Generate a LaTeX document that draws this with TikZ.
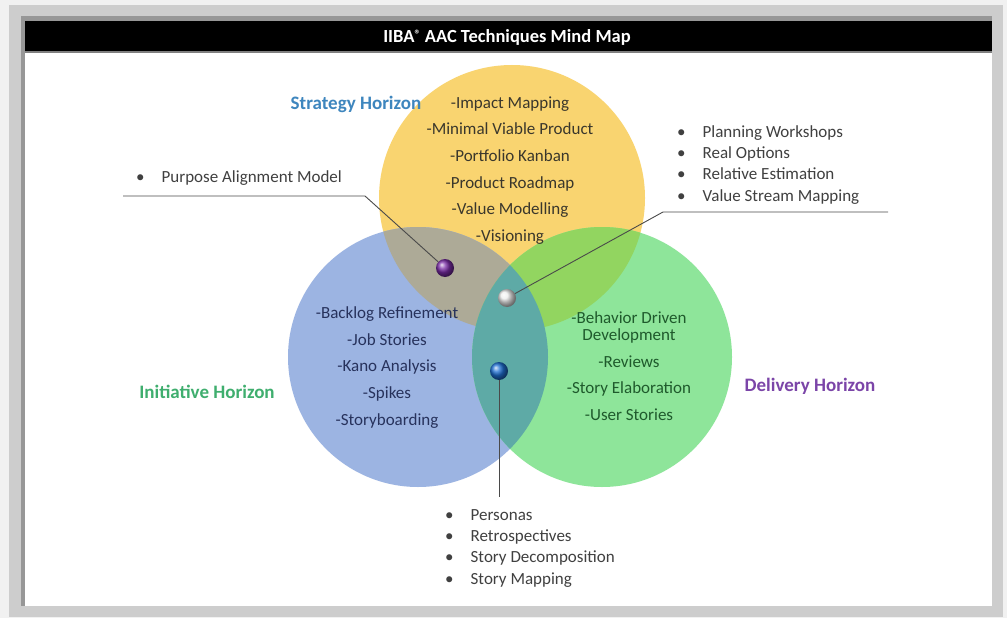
\documentclass[tikz,border=0pt]{standalone}
\usepackage{fontspec}
\setmainfont{Carlito}

\definecolor{outergray}{HTML}{F1F1F1}
\definecolor{shadowgray}{HTML}{CDCDCD}
\definecolor{edgegray}{HTML}{979797}
\definecolor{stratfill}{HTML}{F9D470}
\definecolor{initfill}{HTML}{9CB4E2}
\definecolor{delivfill}{HTML}{8EE59A}
\definecolor{siOverlap}{HTML}{ADAA97}
\definecolor{sdOverlap}{HTML}{92D560}
\definecolor{idOverlap}{HTML}{5EAAA6}
\definecolor{stratlabel}{HTML}{3E86BE}
\definecolor{initlabel}{HTML}{3FAE6E}
\definecolor{delivlabel}{HTML}{7B45A8}
\definecolor{strattext}{HTML}{3A372C}
\definecolor{inittext}{HTML}{27325C}
\definecolor{delivtext}{HTML}{1F5A2C}
\definecolor{bullettext}{HTML}{404040}
\definecolor{leadergray}{HTML}{4A4A4A}
\definecolor{ballpurple}{HTML}{7A2CA6}
\definecolor{ballwhite}{HTML}{EDEDED}
\definecolor{ballblue}{HTML}{1E6FD2}

\begin{document}
\begin{tikzpicture}[x=1pt,y=-1pt,
  titletext/.style={text=white,font=\fontsize{18.5}{21}\selectfont\bfseries},
  circtext/.style={align=center,font=\fontsize{17}{26.6}\selectfont},
  horizon/.style={font=\fontsize{19}{22}\selectfont\bfseries},
  bulletlist/.style={anchor=north west,inner sep=0pt,font=\fontsize{17}{21.3}\selectfont,text=bullettext},
  leader/.style={draw=leadergray,line width=0.9pt},
  pearl/.style={circle,minimum size=18pt,inner sep=0pt}]
  	% frame and shadow
  	\fill[outergray] (0,0) rectangle (1007,618);
  	\fill[shadowgray] (9,5) rectangle (1003,617);
  	\fill[edgegray] (21,16) rectangle (992,606);
  	\fill[white] (25,21) rectangle (992,606);
  	\fill[black] (25,21) rectangle (992,52);
  	\draw[gray,line width=1.5pt] (25,52) -- (992,52);
  	\node[titletext] (title) at (507,37) {IIBA{\fontsize{12}{12}\selectfont\raisebox{4pt}{®}} AAC Techniques Mind Map};

  	% the three horizons
  	\coordinate (S) at (512,198);
  	\coordinate (I) at (418,357);
  	\coordinate (D) at (602,357);
  	\fill[stratfill] (S) circle[radius=133pt];
  	\fill[initfill] (I) circle[radius=130pt];
  	\fill[delivfill] (D) circle[radius=130pt];
  	\begin{scope}
    	\clip (S) circle[radius=133pt];
    	\fill[siOverlap] (I) circle[radius=130pt];
    	\fill[sdOverlap] (D) circle[radius=130pt];
  	\end{scope}
  	\begin{scope}
    	\clip (I) circle[radius=130pt];
    	\fill[idOverlap] (D) circle[radius=130pt];
  	\end{scope}

  	\node[horizon,text=stratlabel] (strat) at (356,104) {Strategy Horizon};
  	\node[horizon,text=initlabel] (init) at (207,392) {Initiative Horizon};
  	\node[horizon,text=delivlabel] (deliv) at (810,386) {Delivery Horizon};

  	\node[circtext,text=strattext] (stratlist) at (510,170.5) {-Impact Mapping\\-Minimal Viable Product\\-Portfolio Kanban\\-Product Roadmap\\-Value Modelling\\-Visioning};
  	\node[circtext,text=inittext] (initlist) at (387,367.5) {-Backlog Refinement\\-Job Stories\\-Kano Analysis\\-Spikes\\-Storyboarding};
  	\node[circtext,text=delivtext,font=\fontsize{17}{17}\selectfont] (delivlist) at (629,366) {-Behavior Driven\\Development\\[10pt]-Reviews\\[9pt]-Story Elaboration\\[10pt]-User Stories};

  	% shared techniques
  	\node[pearl,ball color=ballpurple] (siball) at (445,268) {};
  	\node[pearl,ball color=ballwhite] (allball) at (507,298) {};
  	\node[pearl,ball color=ballblue] (idball) at (499,371) {};

  	\node[bulletlist] (silist) at (136,167) {\begin{tabular}{@{}l@{\hspace{17pt}}l@{}}\textbullet & Purpose Alignment Model\end{tabular}};
  	\node[bulletlist] (alllist) at (677,122) {\begin{tabular}{@{}l@{\hspace{17pt}}l@{}}\textbullet & Planning Workshops\\ \textbullet & Real Options\\ \textbullet & Relative Estimation\\ \textbullet & Value Stream Mapping\end{tabular}};
  	\node[bulletlist] (idlist) at (445,505) {\begin{tabular}{@{}l@{\hspace{17pt}}l@{}}\textbullet & Personas\\ \textbullet & Retrospectives\\ \textbullet & Story Decomposition\\ \textbullet & Story Mapping\end{tabular}};

  	\coordinate (siL) at (123,196);
  	\coordinate (siR) at (365,196);
  	\coordinate (allR) at (888,212);
  	\coordinate (allL) at (663,212);
  	\coordinate (idB) at (499,497);
  	\draw[leader] (siL) -- (siR) -- (siball);
  	\draw[leader] (allR) -- (allL) -- (allball);
  	\draw[leader] (idball) -- (idB);
\end{tikzpicture}
\end{document}
